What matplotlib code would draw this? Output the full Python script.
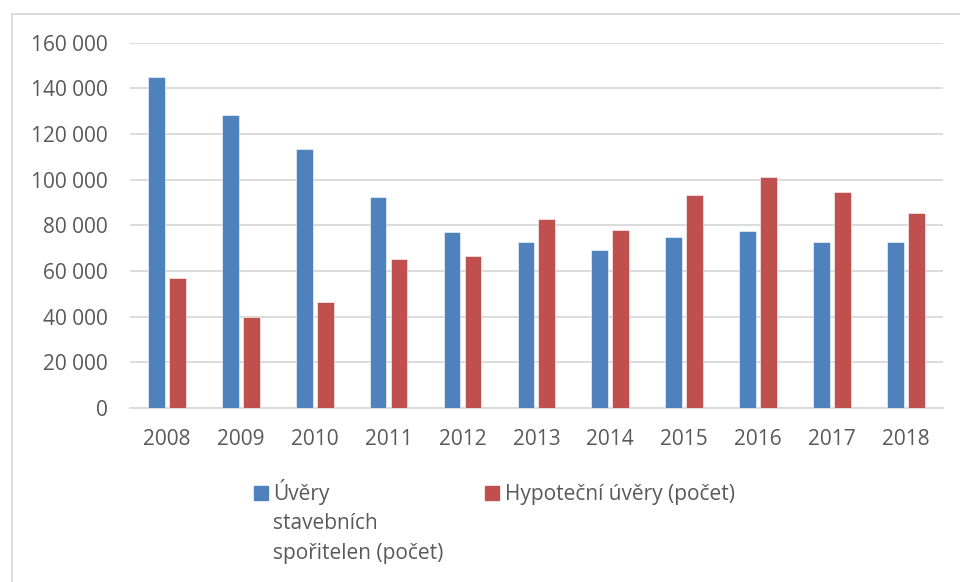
import matplotlib
matplotlib.use("Agg")
import matplotlib.pyplot as plt
import numpy as np
from matplotlib.ticker import FuncFormatter, MultipleLocator
from matplotlib.patches import Rectangle
from matplotlib.lines import Line2D

years = ["2008", "2009", "2010", "2011", "2012", "2013", "2014", "2015", "2016", "2017", "2018"]
stavebni = [144800, 128500, 113400, 92600, 77100, 72900, 69200, 74900, 77400, 72600, 72900]
hypotecni = [57100, 39700, 46300, 65400, 66400, 82800, 78000, 93300, 101300, 94800, 85400]
label_stavebni = ["Úvěry", "stavebních", "spořitelen (počet)"]
label_hypotecni = "Hypoteční úvěry (počet)"

BLUE = "#4F81BD"
RED = "#C0504D"
TEXT = "#595959"
GRID = "#D9D9D9"
FS = 15

plt.rcParams["font.family"] = ["Open Sans", "DejaVu Sans"]

W, H = 960, 582
fig = plt.figure(figsize=(W / 100, H / 100), dpi=100)

def fx(px):
    return px / W

def fy(py):
    return 1 - py / H

# outer chart frame
fig.add_artist(Line2D([fx(12), fx(12)], [fy(13.5), 0], color=GRID, lw=1.3, transform=fig.transFigure))
fig.add_artist(Line2D([fx(12), 1], [fy(13.5), fy(13.5)], color=GRID, lw=1.3, transform=fig.transFigure))

ax = fig.add_axes([fx(130), fy(408), fx(942.7) - fx(130), fy(42.7) - fy(408)])

x = np.arange(len(years))
bw = 0.226
off = 0.142
ax.bar(x - off, stavebni, width=bw, color=BLUE, edgecolor="white", linewidth=0.4, zorder=3)
ax.bar(x + off, hypotecni, width=bw, color=RED, edgecolor="white", linewidth=0.4, zorder=3)

ax.set_xlim(-0.5, len(years) - 0.5)
ax.set_ylim(0, 160000)
ax.yaxis.set_major_locator(MultipleLocator(20000))
ax.yaxis.set_major_formatter(FuncFormatter(lambda v, p: f"{int(v):,}".replace(",", " ")))
ax.set_xticks(x)
ax.set_xticklabels(years)
ax.grid(axis="y", color=GRID, lw=1.3, zorder=0)
ax.set_axisbelow(True)
for s in ["top", "right", "left"]:
    ax.spines[s].set_visible(False)
ax.spines["bottom"].set_color(GRID)
ax.spines["bottom"].set_linewidth(1.3)
ax.tick_params(axis="both", length=0, colors=TEXT, labelsize=FS)
ax.tick_params(axis="y", pad=16)
ax.tick_params(axis="x", pad=15)

# legend
fig.add_artist(Rectangle((fx(254), fy(500)), fx(14), fy(486) - fy(500), color=BLUE, transform=fig.transFigure))
for i, line in enumerate(label_stavebni):
    fig.text(fx(273), fy(500 + 29.3 * i), line, color=TEXT, fontsize=FS, va="baseline", ha="left",
             transform=fig.transFigure)
fig.add_artist(Rectangle((fx(485), fy(500)), fx(14), fy(486) - fy(500), color=RED, transform=fig.transFigure))
fig.text(fx(505), fy(500), label_hypotecni, color=TEXT, fontsize=FS, va="baseline", ha="left",
         transform=fig.transFigure)

fig.savefig("out.png", dpi=100)
